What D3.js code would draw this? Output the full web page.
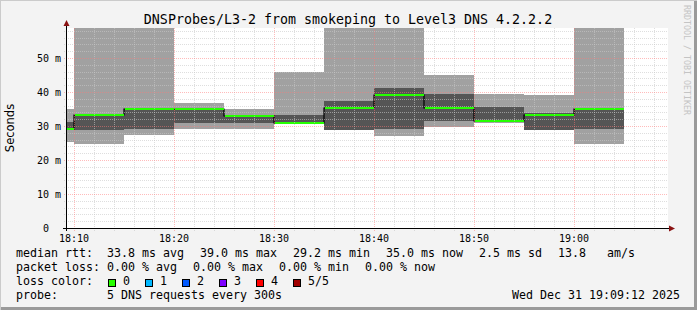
<!DOCTYPE html>
<html><head><meta charset="utf-8">
<script src="https://cdn.jsdelivr.net/npm/d3@7"></script>
<style>
html,body{margin:0;padding:0;background:#f3f3f3;}
svg{display:block;}
text{white-space:pre;}
</style></head><body>
<svg id="c" width="697" height="310"></svg>
<script>
// ---------------- data ----------------
const title = "DNSProbes/L3-2 from smokeping to Level3 DNS 4.2.2.2";
const windowStart = "18:09:18";
const windowEnd = "19:09:18";
const stepMinutes = 5;
const segStarts = ["18:05","18:10","18:15","18:20","18:25","18:30","18:35","18:40","18:45","18:50","18:55","19:00"];
const pingMin  = [25.4, 24.7, 27.4, 29.1, 29.2, 30.7, 28.8, 27.2, 29.8, 31.0, 28.8, 24.7];
const pingLow  = [29.2, 28.8, 29.1, 30.9, 31.0, 30.8, 28.8, 29.1, 31.6, 31.6, 28.8, 29.1];
const medianRtt= [29.2, 33.2, 35.0, 35.0, 32.9, 30.9, 35.3, 39.0, 35.3, 31.6, 33.3, 35.0];
const pingHigh = [31.1, 33.2, 35.0, 35.0, 32.9, 33.2, 37.4, 41.1, 39.4, 35.5, 33.9, 35.0];
const pingMax  = [35.0, 62.0, 62.0, 36.8, 35.0, 46.0, 62.0, 62.0, 45.0, 39.4, 39.1, 62.0];
const lossCount= [0, 0, 0, 0, 0, 0, 0, 0, 0, 0, 0, 0];
const yMaxMs = 58.82;
const yTicks = [0, 10, 20, 30, 40, 50];
const yTickLabels = ["0  ", "10 m", "20 m", "30 m", "40 m", "50 m"];
const xTickLabels = ["18:10", "18:20", "18:30", "18:40", "18:50", "19:00"];
const unitLabel = "Seconds";
const lossLabels = ["0", "1", "2", "3", "4", "5/5"];
const lossColors = ["#26ff00", "#00b8ff", "#0059ff", "#7e00ff", "#ff0000", "#a10000"];
const rttLabel = "median rtt:";
const rttItems = ["33.8 ms avg", "39.0 ms max", "29.2 ms min", "35.0 ms now", "2.5 ms sd", "13.8   am/s"];
const lossRowLabel = "packet loss:";
const lossItems = ["0.00 % avg", "0.00 % max", "0.00 % min", "0.00 % now"];
const colorRowLabel = "loss color:";
const probeLabel = "probe:";
const probeText = "5 DNS requests every 300s";
const stamp = "Wed Dec 31 19:09:12 2025";
const watermark = "RRDTOOL / TOBI OETIKER";

// ---------------- layout ----------------
const W = 697, H = 310;
const L = 67, T = 28, PW = 600, PH = 200;
const mono = "'DejaVu Sans Mono', monospace";
const svg = d3.select("#c");

const pt = d3.timeParse("%H:%M:%S");
const pm = d3.timeParse("%H:%M");
const x = d3.scaleTime().domain([pt(windowStart), pt(windowEnd)]).range([L, L + PW]);
const y = d3.scaleLinear().domain([0, yMaxMs]).range([T + PH, T]);

// background + frame
svg.append("rect").attr("width", W).attr("height", H).attr("fill", "#f3f3f3");
svg.append("path").attr("d", `M0,${H} V0 H${W}`).attr("stroke", "#cbcbcb").attr("stroke-width", 2).attr("fill", "none");
svg.append("path").attr("d", `M1,${H-1.5} H${W-1.5} V1`).attr("stroke", "#9a9a9a").attr("stroke-width", 3).attr("fill", "none");

svg.append("rect").attr("x", L).attr("y", T).attr("width", PW + 1).attr("height", PH).attr("fill", "#fff");

svg.append("clipPath").attr("id", "plot").append("rect").attr("x", L).attr("y", T).attr("width", PW).attr("height", PH);

const segs = segStarts.map((s, i) => {
  const t0 = pm(s);
  const t1 = d3.timeMinute.offset(t0, stepMinutes);
  return {t0, t1, min: pingMin[i], low: pingLow[i], med: medianRtt[i], high: pingHigh[i], max: pingMax[i], loss: lossCount[i]};
});

const gData = svg.append("g").attr("clip-path", "url(#plot)");
gData.selectAll("rect.outer").data(segs).join("rect").attr("class", "outer")
  .attr("x", d => Math.round(x(d.t0))).attr("width", d => Math.round(x(d.t1)) - Math.round(x(d.t0)))
  .attr("y", d => Math.round(y(d.max))).attr("height", d => Math.round(y(d.min)) - Math.round(y(d.max)))
  .attr("fill", "#a1a1a1");
gData.selectAll("rect.inner").data(segs).join("rect").attr("class", "inner")
  .attr("x", d => Math.round(x(d.t0))).attr("width", d => Math.round(x(d.t1)) - Math.round(x(d.t0)))
  .attr("y", d => Math.round(y(d.high))).attr("height", d => Math.max(0, Math.round(y(d.low)) - Math.round(y(d.high))))
  .attr("fill", "#555555");

// grid (drawn on top of smoke)
const gGrid = svg.append("g").attr("shape-rendering", "crispEdges");
const minorT = d3.timeMinute.every(2).range(x.domain()[0], x.domain()[1]);
const majorT = d3.timeMinute.every(10).range(x.domain()[0], x.domain()[1]);
const minorY = d3.range(2, yMaxMs, 2);
const majorY = yTicks.filter(v => v > 0);
const minorCol = "rgba(200,200,200,0.6)", majorCol = "rgba(255,120,120,0.5)";
gGrid.selectAll("line.vm").data(minorT.filter(t => t.getMinutes() % 10 !== 0)).join("line")
  .attr("x1", d => Math.round(x(d)) + 0.5).attr("x2", d => Math.round(x(d)) + 0.5)
  .attr("y1", T).attr("y2", T + PH + 3).attr("stroke", minorCol).attr("stroke-dasharray", "1,1");
gGrid.selectAll("line.hm").data(minorY.filter(v => v % 10 !== 0)).join("line")
  .attr("y1", d => Math.round(y(d)) + 0.5).attr("y2", d => Math.round(y(d)) + 0.5)
  .attr("x1", L - 3).attr("x2", L + PW + 1).attr("stroke", minorCol).attr("stroke-dasharray", "1,1");
gGrid.selectAll("line.vM").data(majorT).join("line")
  .attr("x1", d => Math.round(x(d)) + 0.5).attr("x2", d => Math.round(x(d)) + 0.5)
  .attr("y1", T).attr("y2", T + PH + 3).attr("stroke", majorCol).attr("stroke-dasharray", "1,1");
gGrid.selectAll("line.hM").data(majorY).join("line")
  .attr("y1", d => Math.round(y(d)) + 0.5).attr("y2", d => Math.round(y(d)) + 0.5)
  .attr("x1", L - 3).attr("x2", L + PW + 1).attr("stroke", majorCol).attr("stroke-dasharray", "1,1");

// median: black step line then loss-colored segments
const stepPts = segs.map(d => [x(d.t0), Math.round(y(d.med))]);
stepPts.push([x(segs[segs.length - 1].t1), Math.round(y(segs[segs.length - 1].med))]);
gData.append("path").attr("d", d3.line().curve(d3.curveStepAfter)(stepPts))
  .attr("fill", "none").attr("stroke", "#000").attr("stroke-width", 1.2);
gData.selectAll("line.med").data(segs).join("line")
  .attr("x1", d => Math.round(x(d.t0)) + 1).attr("x2", d => Math.round(x(d.t1)))
  .attr("y1", d => Math.round(y(d.med))).attr("y2", d => Math.round(y(d.med)))
  .attr("stroke", d => lossColors[d.loss]).attr("stroke-width", 2);

// axes
const axisCol = "#000", arrowCol = "#8a1212";
svg.append("line").attr("x1", L - 4).attr("x2", L + PW + 2).attr("y1", T + PH + 0.5).attr("y2", T + PH + 0.5).attr("stroke", axisCol);
svg.append("line").attr("x1", L - 0.5).attr("x2", L - 0.5).attr("y1", T + PH + 3).attr("y2", T - 6).attr("stroke", axisCol);
svg.append("path").attr("d", `M${L - 0.5},${T - 8} L${L - 3.5},${T - 2} L${L + 2.5},${T - 2} Z`).attr("fill", arrowCol);
svg.append("path").attr("d", `M${L + PW + 8},${T + PH + 0.5} L${L + PW + 2},${T + PH - 2.5} L${L + PW + 2},${T + PH + 3.5} Z`).attr("fill", arrowCol);

svg.selectAll("text.yl").data(yTicks).join("text")
  .attr("x", L - 6).attr("y", d => y(d)).attr("dy", "0.36em").attr("text-anchor", "end")
  .attr("font-family", mono).attr("font-size", "10px").attr("fill", "#000")
  .text((d, i) => yTickLabels[i]);
svg.selectAll("text.xl").data(xTickLabels).join("text")
  .attr("x", d => x(pm(d))).attr("y", 242).attr("text-anchor", "middle")
  .attr("font-family", mono).attr("font-size", "10px").attr("fill", "#000")
  .text(d => d);

svg.append("text").attr("transform", `translate(14,${T + PH / 2}) rotate(-90)`).attr("text-anchor", "middle")
  .attr("font-family", "'DejaVu Sans', sans-serif").attr("font-size", "11.5px").attr("fill", "#000").text(unitLabel);

svg.append("text").attr("x", 348).attr("y", 23.5).attr("text-anchor", "middle")
  .attr("font-family", mono).attr("font-size", "13.3px").attr("fill", "#000").text(title);

svg.append("text").attr("transform", `translate(684,5) rotate(90)`)
  .attr("font-family", mono).attr("font-size", "8.3px").attr("fill", "#c4c4c4").text(watermark);

const lf = "11.63px";
function row(label, items, base) {
  svg.append("text").attr("x", 16).attr("y", base).attr("font-family", mono).attr("font-size", lf).text(label);
  let xx = 107;
  items.forEach(s => {
    const t = svg.append("text").attr("x", xx).attr("y", base).attr("font-family", mono).attr("font-size", lf).text(s);
    xx += t.node().getComputedTextLength() + 16;
  });
}
row(rttLabel, rttItems, 257);
row(lossRowLabel, lossItems, 271);
svg.append("text").attr("x", 16).attr("y", 285).attr("font-family", mono).attr("font-size", lf).text(colorRowLabel);
let sx = 108;
lossLabels.forEach((lab, i) => {
  svg.append("rect").attr("x", sx + 0.5).attr("y", 279.5).attr("width", 7).attr("height", 7)
    .attr("fill", lossColors[i]).attr("stroke", "#000").attr("stroke-width", 1);
  const t = svg.append("text").attr("x", sx + 15).attr("y", 285).attr("font-family", mono).attr("font-size", lf).text(lab);
  sx = sx + 15 + t.node().getComputedTextLength() + 15;
});
svg.append("text").attr("x", 16).attr("y", 299).attr("font-family", mono).attr("font-size", lf).text(probeLabel);
svg.append("text").attr("x", 107).attr("y", 299).attr("font-family", mono).attr("font-size", lf).text(probeText);
svg.append("text").attr("x", 680).attr("y", 299).attr("text-anchor", "end").attr("font-family", mono).attr("font-size", lf).text(stamp);
</script>
</body></html>
